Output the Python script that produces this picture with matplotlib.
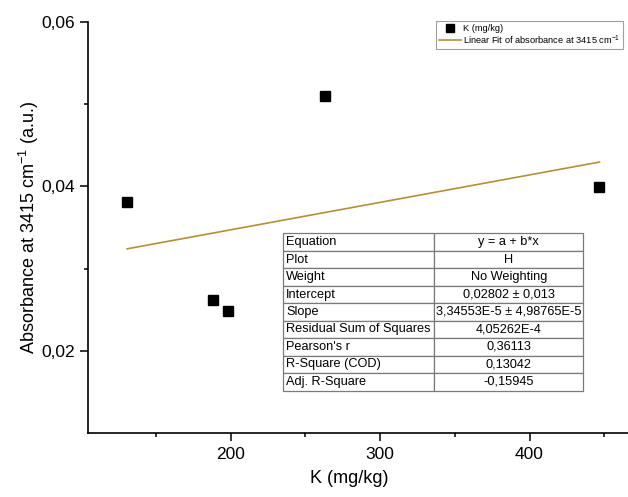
import numpy as np
import matplotlib.pyplot as plt
from matplotlib.ticker import FixedLocator, FuncFormatter

plt.rcParams["font.family"] = ["Liberation Sans", "DejaVu Sans"]
plt.rcParams["mathtext.default"] = "regular"

# data
k_mgkg = [130.9, 188.1, 198.5, 263.3, 446.8]
absorb = [0.0381, 0.0262, 0.0248, 0.0510, 0.0399]

# linear fit result (from the table)
intercept = 0.02802
slope = 3.34553e-5

table_labels = ["Equation", "Plot", "Weight", "Intercept", "Slope",
                "Residual Sum of Squares", "Pearson's r", "R-Square (COD)",
                "Adj. R-Square"]
table_values = ["y = a + b*x", "H", "No Weighting", "0,02802 \u00b1 0,013",
                "3,34553E-5 \u00b1 4,98765E-5", "4,05262E-4", "0,36113",
                "0,13042", "-0,15945"]

fit_color = "#b8902c"

fig = plt.figure(figsize=(6.28, 4.97), dpi=100)
ax = fig.add_axes([0.1409, 0.1294, 0.8927, 0.8258])

ax.plot(k_mgkg, absorb, "s", color="black", markersize=6.5, linestyle="none",
        label="K (mg/kg)")
xf = np.array([min(k_mgkg), max(k_mgkg)])
ax.plot(xf, intercept + slope * xf, color=fit_color, linewidth=1.2,
        label="Linear Fit of absorbance at 3415 cm$^{-1}$")

ax.set_xlim(105, 480)
ax.set_ylim(0.01, 0.06)

ax.xaxis.set_major_locator(FixedLocator([200, 300, 400]))
ax.xaxis.set_minor_locator(FixedLocator([150, 250, 350, 450]))
ax.yaxis.set_major_locator(FixedLocator([0.02, 0.04, 0.06]))
ax.yaxis.set_minor_locator(FixedLocator([0.03, 0.05]))
ax.yaxis.set_major_formatter(FuncFormatter(lambda v, p: f"{v:.2f}".replace(".", ",")))

for s in ["top", "right"]:
    ax.spines[s].set_visible(False)
for s in ["left", "bottom"]:
    ax.spines[s].set_linewidth(1.2)

ax.tick_params(which="major", direction="out", length=6, width=1.1,
               labelsize=12.5, pad=4)
ax.tick_params(which="minor", direction="out", length=3, width=1.1)

ax.set_xlabel("K (mg/kg)", fontsize=13)
ax.set_ylabel("Absorbance at 3415 cm$^{-1}$ (a.u.)", fontsize=13)
ax.xaxis.set_label_coords(0.4647, -0.091)
ax.yaxis.set_label_coords(-0.085, 0.5)

leg = ax.legend(loc="upper left", bbox_to_anchor=(436 / 628, 1 - 21 / 497),
                bbox_transform=fig.transFigure, borderaxespad=0,
                fontsize=6.7, frameon=True, fancybox=False,
                edgecolor="#888888", labelspacing=0.05, handlelength=2.4,
                handletextpad=0.15, borderpad=0.3, markerscale=0.95)
leg.get_frame().set_linewidth(0.8)

# fit results table
tax = fig.add_axes([283.3 / 628, 1 - 390.7 / 497, 300 / 628, 157.4 / 497])
tax.axis("off")
cells = [[a, b] for a, b in zip(table_labels, table_values)]
tbl = tax.table(cellText=cells, cellLoc="center", bbox=[0, 0, 1, 1],
                colWidths=[151 / 300, 149 / 300])
tbl.auto_set_font_size(False)
tbl.set_fontsize(9.2)
for (r, c), cell in tbl.get_celld().items():
    cell.set_edgecolor("#7a7a7a")
    cell.set_linewidth(0.9)
    cell.PAD = 0.02
    if c == 0:
        cell.get_text().set_horizontalalignment("left")

fig.savefig("out.png", dpi=100)
